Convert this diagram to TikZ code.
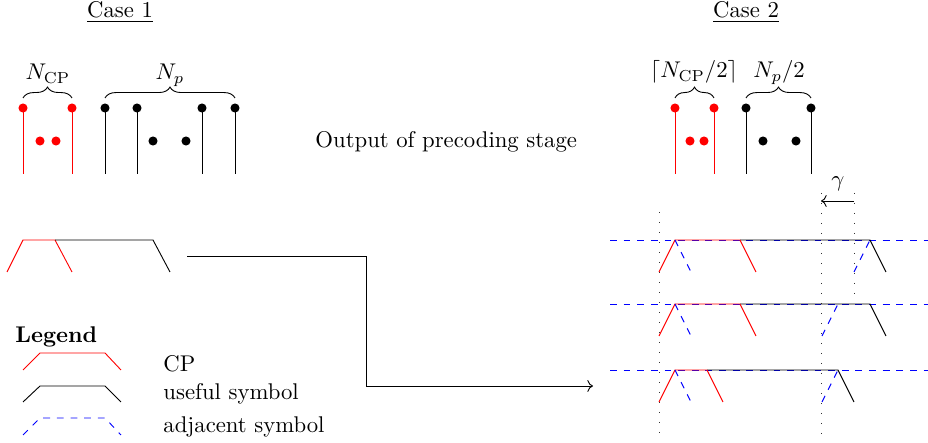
\documentclass[tikz,border=0pt]{standalone}
\usetikzlibrary{arrows.meta,positioning,decorations.pathreplacing}

\begin{document}
\begin{tikzpicture}[
    x=0.44pt, y=-0.44pt,
    tip/.style={circle, fill, inner sep=0pt, minimum size=4pt},
    brc/.style={decorate, decoration={brace, amplitude=4.8pt}},
    cpline/.style={draw=red},
    useline/.style={draw=black},
    adjline/.style={draw=blue, dashed},
    guide/.style={loosely dotted, black!80},
    lbl/.style={anchor=base, inner sep=0pt},
    arr/.style={->}
  ]
    \useasboundingbox (0,0) rectangle (928,443);

    \node[lbl] (case1) at (120,18) {\underline{Case 1}};
    \node[lbl] (case2) at (746,18) {\underline{Case 2}};
    \node[lbl, anchor=base west] (outp) at (315,148) {Output of precoding stage};

    \foreach \x in {23,72} {
      \draw[red] (\x,108) -- (\x,174);
      \node[tip, red] at (\x,108) {};
    }
    \foreach \x in {105,137,202,235} {
      \draw (\x,108) -- (\x,174);
      \node[tip] at (\x,108) {};
    }
    \foreach \x in {40,56} \node[tip, red] at (\x,141) {};
    \foreach \x in {153,186} \node[tip] at (\x,141) {};
    \draw[brc] (23,98) -- (72,98);
    \draw[brc] (105,98) -- (235,98);
    \node[lbl] (ncp) at (48,80) {$N_{\mathrm{CP}}$};
    \node[lbl] (np) at (170,80) {$N_p$};

    \foreach \x in {675,714} {
      \draw[red] (\x,108) -- (\x,174);
      \node[tip, red] at (\x,108) {};
    }
    \foreach \x in {746,811} {
      \draw (\x,108) -- (\x,174);
      \node[tip] at (\x,108) {};
    }
    \foreach \x in {690,704} \node[tip, red] at (\x,141) {};
    \foreach \x in {763,796} \node[tip] at (\x,141) {};
    \draw[brc] (675,98) -- (714,98);
    \draw[brc] (746,98) -- (811,98);
    \node[lbl] (ncphalf) at (694,78) {$\lceil N_{\mathrm{CP}}/2\rceil$};
    \node[lbl] (nphalf) at (779,78) {$N_p/2$};

    \draw[cpline] (7,272) -- (23,240) -- (55,240) -- (72,272);
    \draw[useline] (55,240) -- (153,240) -- (170,272);

    \coordinate (c1out) at (187,256);
    \coordinate (c2in) at (593,386);
    \draw[arr] (c1out) -- (366,256) |- (c2in);

    \draw[guide] (659,212) -- (659,437);
    \draw[guide] (821,193) -- (821,437);
    \draw[guide] (854,193) -- (854,300);
    \coordinate (gstart) at (854,201);
    \coordinate (gend) at (821,201);
    \draw[arr] (gstart) -- (gend);
    \node[lbl] (gamma) at (838,187) {$\gamma$};

    \foreach \yrow in {240,304,370}
      \draw[adjline] (610,\yrow) -- (928,\yrow);
    \foreach \yrow/\redx/\usex/\adjx in {240/740/870/870, 304/740/870/838, 370/707/838/838} {
      \draw[useline] (\redx,\yrow) -- (\usex,\yrow) -- ++(16,32);
      \draw[cpline] (659,\yrow+32) -- (675,\yrow) -- (\redx,\yrow) -- ++(16,32);
      \draw[adjline] (675,\yrow) -- ++(16,32);
      \draw[adjline] (\adjx-16,\yrow+32) -- (\adjx,\yrow);
    }

    \node[lbl, anchor=base west] (legend) at (15,343) {\textbf{Legend}};
    \draw[cpline] (23,370) -- (40,353) -- (105,353) -- (121,370);
    \draw[useline] (23,402) -- (40,386) -- (105,386) -- (121,402);
    \draw[adjline] (23,435) -- (40,418) -- (105,418) -- (121,435);
    \node[lbl, anchor=base west] (cptxt) at (163,372) {CP};
    \node[lbl, anchor=base west] (usetxt) at (163,400) {useful symbol};
    \node[lbl, anchor=base west] (adjtxt) at (163,433) {adjacent symbol};
  \end{tikzpicture}
\end{document}
